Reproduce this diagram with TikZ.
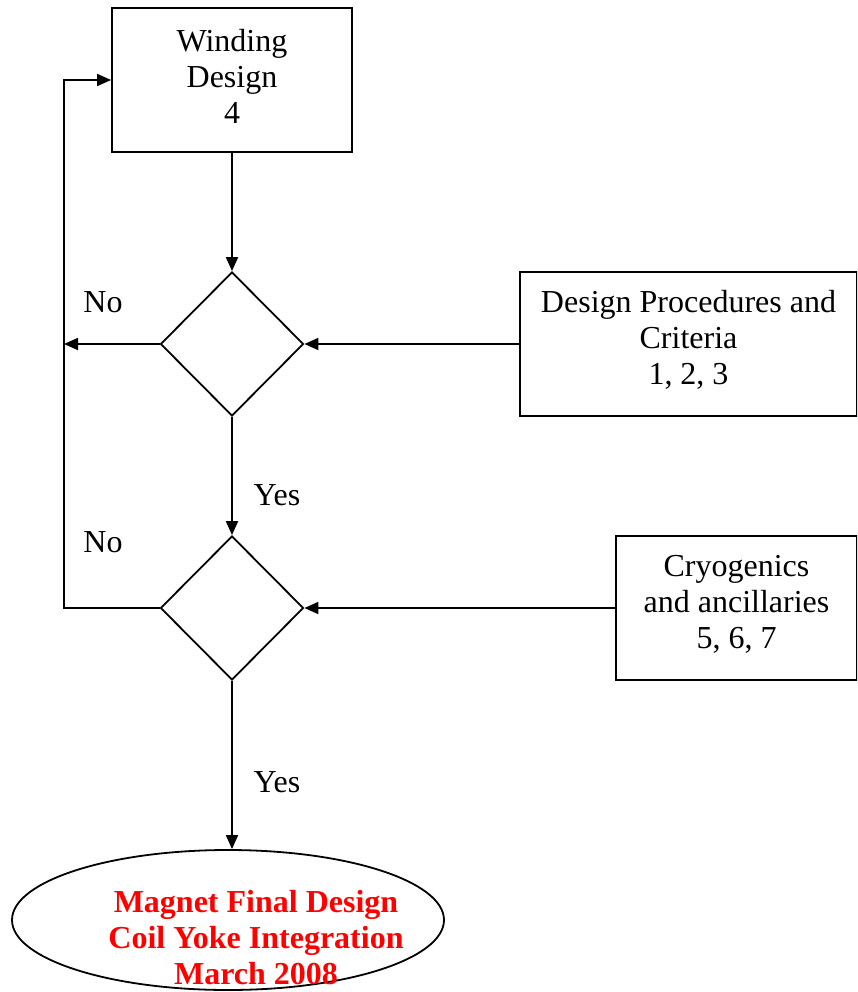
\documentclass[tikz,border=0pt]{standalone}
\usepackage{fontspec}
\setmainfont{Liberation Serif}
\usetikzlibrary{shapes.geometric,arrows.meta}
\newcommand{\lowstrut}[1]{\rule[-#1]{0pt}{1pt}}
\begin{document}
\begin{tikzpicture}[x=1pt,y=-1pt,
  every node/.style={font=\fontsize{32}{36}\selectfont},
  box/.style={draw,line width=1.8pt,rectangle,align=center,inner sep=0pt},
  dec/.style={draw,line width=1.8pt,diamond,minimum width=143pt,minimum height=144pt,inner sep=0pt},
  arr/.style={line width=1.8pt,-{Triangle[length=14pt,width=12pt]}},
  lbl/.style={anchor=base,inner sep=0pt}]
\useasboundingbox (0,0) rectangle (857,992);
\clip (0,0) rectangle (857,992);
\node[box,minimum width=240pt,minimum height=144pt] (b1) at (232,80) {Winding\\Design\\4\lowstrut{8pt}};
\node[dec] (d1) at (232,344) {};
\node[dec] (d2) at (232,608) {};
\node[box,minimum width=337pt,minimum height=144pt] (b2) at (688.5,344) {Design Procedures and\\Criteria\\1, 2, 3\lowstrut{13pt}};
\node[box,minimum width=241pt,minimum height=144pt] (b3) at (736.5,608) {Cryogenics\\and ancillaries\\5, 6, 7\lowstrut{12pt}};
\node[draw,ellipse,line width=1.8pt,minimum width=432pt,minimum height=140pt,inner sep=0pt] (e) at (228,920) {};
\node[anchor=base,inner sep=0pt,align=center,text=red,font=\fontsize{32}{36}\bfseries\selectfont] (et) at (256,984) {Magnet Final Design\\Coil Yoke Integration\\March 2008};
\coordinate (c1) at (64,608);
\coordinate (c2) at (64,80);
\coordinate (c3) at (64,344);
\draw[arr] (b1.south) -- (d1.north);
\draw[arr] (d1.south) -- (d2.north);
\draw[arr] (d2.south) -- (d2.south |- e.north);
\draw[arr] (b2.west) -- (d1.east);
\draw[arr] (b3.west) -- (d2.east);
\draw[arr] (d1.west) -- (c3);
\draw[arr] (d2.west) -- (c1) -- (c2) -- (b1.west);
\node[lbl] (n1) at (103,312) {No};
\node[lbl] (n2) at (103,552) {No};
\node[lbl] (y1) at (277,505) {Yes};
\node[lbl] (y2) at (277,792) {Yes};
\end{tikzpicture}
\end{document}
